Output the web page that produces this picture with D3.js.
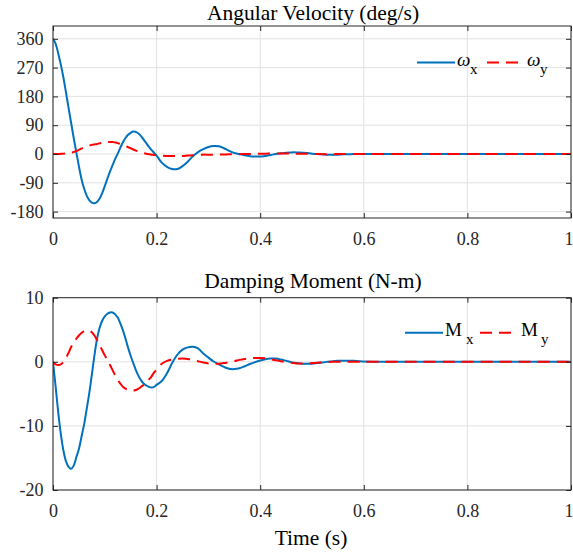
<!DOCTYPE html>
<html><head><meta charset="utf-8">
<script src="https://cdn.jsdelivr.net/npm/d3@7"></script>
<style>
body{margin:0;background:#fff}
svg{display:block}
text{font-family:"Liberation Serif","Times New Roman",serif}
</style>
</head><body>
<svg id="c" width="573" height="555"></svg>
<script>
// ---------- data ----------
const time = [0,0.005,0.01,0.015,0.02,0.025,0.03,0.035,0.04,0.045,0.05,0.055,0.06,0.065,0.07,0.075,0.08,0.085,0.09,0.095,0.1,0.105,0.11,0.115,0.12,0.125,0.13,0.135,0.14,0.145,0.15,0.155,0.16,0.165,0.17,0.175,0.18,0.185,0.19,0.195,0.2,
0.21,0.22,0.23,0.24,0.25,0.26,0.27,0.28,0.29,0.3,0.31,0.32,0.33,0.34,0.35,0.36,0.37,0.38,0.39,0.4,0.41,0.42,0.43,0.44,0.45,0.46,0.47,0.48,0.49,0.5,0.51,0.52,0.53,0.54,0.55,0.56,0.57,0.58,0.59,0.6,
0.7,0.8,0.9,1];

const omegaX = [360,345,315,280,240,193,145,97,50,5,-38,-78,-108,-130,-144,-152,-154,-150,-139,-122,-100,-77,-55,-35,-15,1,20,37,50,60,66,70,69,64,56,45,34,23,13,4,-5,
-27,-40,-47,-47,-38,-24,-7,6,15,22,25,24,18,10,3,0,-4,-7,-8,-8,-6,-3,0,2,4,5,5,4,3,1,0,-1,-2,-2,-2,-1,-1,0,0,0,
0,0,0,0];

const omegaY = [0,0,0,0.5,1,2,3,4.5,6,9,13,17,21,24,26.5,28.5,30,31.5,33.5,35,36,37,37.5,37.5,36,34,31,28,25,21.5,18,14,10.5,7.5,5,3,1,-0.5,-2,-3,-4,
-5,-6,-6,-6,-6,-5,-4,-3,-2,-2,-2,-2,-1.5,-1,-1,-0.5,0,0,0.5,1,1,1.5,1.5,1.5,1.5,1.5,1,1,0.5,0,0,-0.5,-0.5,-0.5,0,0,0,0,0,0,
0,0,0,0];

const momentX = [0,-3.8,-7.8,-11.2,-13.8,-15.5,-16.4,-16.7,-16.2,-14.9,-13.6,-11.7,-9.8,-7.4,-4.9,-2.0,1.0,3.6,5.3,6.4,7.1,7.5,7.7,7.7,7.4,6.9,6.0,4.9,3.6,2.2,0.9,-0.2,-1.3,-2.2,-2.9,-3.4,-3.7,-3.9,-4.0,-3.9,-3.6,
-3.0,-1.8,-0.2,1.1,1.9,2.25,2.35,2.1,1.3,0.65,0.05,-0.4,-0.8,-1.1,-1.14,-1.0,-0.7,-0.35,-0.05,0.2,0.4,0.5,0.5,0.35,0.15,-0.05,-0.2,-0.3,-0.3,-0.3,-0.2,-0.1,0,0.1,0.15,0.15,0.15,0.15,0.1,0.05,
0,0,0,0];

const momentY = [0,-0.4,-0.5,-0.4,0,0.6,1.4,2.3,3.0,3.6,4.1,4.5,4.8,4.9,4.85,4.6,4.1,3.4,2.6,1.8,1.0,0.3,-0.5,-1.3,-2.1,-2.8,-3.4,-3.9,-4.2,-4.4,-4.5,-4.5,-4.4,-4.2,-3.9,-3.6,-3.3,-2.8,-2.3,-1.7,-1.2,
-0.3,0.15,0.35,0.45,0.5,0.45,0.3,0.1,-0.1,-0.25,-0.3,-0.3,-0.2,-0.05,0.1,0.3,0.45,0.55,0.6,0.6,0.55,0.4,0.25,0.1,-0.05,-0.15,-0.25,-0.25,-0.25,-0.2,-0.15,-0.1,-0.05,0,0,0,0,0,0,0,
0,0,0,0];

const xTicks = [0,0.2,0.4,0.6,0.8,1];
const xTickLabels = ["0","0.2","0.4","0.6","0.8","1"];
const omegaTicks = [-180,-90,0,90,180,270,360];
const omegaTickLabels = ["-180","-90","0","90","180","270","360"];
const momentTicks = [-20,-10,0,10];
const momentTickLabels = ["-20","-10","0","10"];
const omegaDomain = [-200,400];
const momentDomain = [-20,10];
const titles = ["Angular Velocity (deg/s)","Damping Moment (N-m)"];
const xLabel = "Time (s)";
const omegaLegend = [{base:"ω", sub:"x"},{base:"ω", sub:"y"}];
const momentLegend = [{base:"M", sub:"x"},{base:"M", sub:"y"}];

// ---------- drawing ----------
const FONT = "'Liberation Serif','Times New Roman',serif";
const svg = d3.select("#c");
const BLUE = "#0072BD", RED = "#FF0000", AX = "#262626", GRID = "#e2e2e2";
const L = 53, R = 571;
const x = d3.scaleLinear().domain([0,1]).range([L,R]);

const panels = [
  {title:titles[0], top:26, bottom:218, domain:omegaDomain, ticks:omegaTicks, labels:omegaTickLabels,
   series:[omegaX, omegaY], legend:omegaLegend, italic:true,
   leg:{y:62.5, items:[{x1:417,x2:455,tx:457,sx:470},{x1:487,x2:519,tx:527,sx:540}]}, titleY:19.5},
  {title:titles[1], top:297.7, bottom:490, domain:momentDomain, ticks:momentTicks, labels:momentTickLabels,
   series:[momentX, momentY], legend:momentLegend, italic:false,
   leg:{y:332.7, items:[{x1:405,x2:443,tx:445,sx:466},{x1:480,x2:518,tx:521,sx:541}]}, titleY:288}
];

panels.forEach((p,i)=>{
  const y = d3.scaleLinear().domain(p.domain).range([p.bottom,p.top]);
  const g = svg.append("g");
  // grid
  g.append("g").selectAll("line").data(xTicks).join("line")
    .attr("x1",d=>x(d)).attr("x2",d=>x(d)).attr("y1",p.top).attr("y2",p.bottom)
    .attr("stroke",GRID).attr("stroke-width",1);
  g.append("g").selectAll("line").data(p.ticks).join("line")
    .attr("x1",L).attr("x2",R).attr("y1",d=>y(d)).attr("y2",d=>y(d))
    .attr("stroke",GRID).attr("stroke-width",1);

  // clip
  const cid = "clip"+i;
  svg.append("clipPath").attr("id",cid).append("rect")
    .attr("x",L).attr("y",p.top).attr("width",R-L).attr("height",p.bottom-p.top);

  const line = d3.line().x((d,k)=>x(time[k])).y(d=>y(d)).curve(d3.curveCatmullRom);
  const lines = g.append("g").attr("clip-path",`url(#${cid})`);
  lines.append("path").datum(p.series[0]).attr("d",line)
    .attr("fill","none").attr("stroke",BLUE).attr("stroke-width",2);
  lines.append("path").datum(p.series[1]).attr("d",line)
    .attr("fill","none").attr("stroke",RED).attr("stroke-width",2).attr("stroke-dasharray","12,7");

  // axes
  const styleAxis = sel=>{
    sel.attr("font-family",FONT).attr("font-size",18);
    sel.select(".domain").remove();
    sel.selectAll(".tick line").attr("stroke",AX).attr("stroke-width",1);
    sel.selectAll(".tick text").attr("fill",AX).style("font-size","18px").style("font-family",FONT);
  };
  const xFmt = d=>xTickLabels[xTicks.indexOf(d)];
  const yFmt = d=>p.labels[p.ticks.indexOf(d)];
  const bx = g.append("g").attr("transform",`translate(0,${p.bottom})`)
    .call(d3.axisBottom(x).tickValues(xTicks).tickFormat(xFmt).tickSizeInner(-5).tickSizeOuter(0).tickPadding(14))
    .call(styleAxis);
  // keep the last label ("1") inside the page edge
  bx.selectAll(".tick text").filter(d=>d===1).attr("dx",-2.5);
  g.append("g").attr("transform",`translate(0,${p.top})`)
    .call(d3.axisTop(x).tickValues(xTicks).tickFormat("").tickSizeInner(-5).tickSizeOuter(0))
    .call(styleAxis);
  g.append("g").attr("transform",`translate(${L},0)`)
    .call(d3.axisLeft(y).tickValues(p.ticks).tickFormat(yFmt).tickSizeInner(-5).tickSizeOuter(0).tickPadding(9.5))
    .call(styleAxis);
  g.append("g").attr("transform",`translate(${R},0)`)
    .call(d3.axisRight(y).tickValues(p.ticks).tickFormat("").tickSizeInner(-5).tickSizeOuter(0))
    .call(styleAxis);
  // box
  g.append("rect").attr("x",L).attr("y",p.top).attr("width",R-L).attr("height",p.bottom-p.top)
    .attr("fill","none").attr("stroke",AX).attr("stroke-width",1);

  // title
  svg.append("text").attr("x",313).attr("y",p.titleY).attr("text-anchor","middle")
    .style("font-size","21.5px").attr("fill","#000").text(p.title);

  // legend
  p.leg.items.forEach((it,k)=>{
    svg.append("line").attr("x1",it.x1).attr("x2",it.x2).attr("y1",p.leg.y).attr("y2",p.leg.y)
      .attr("stroke",k===0?BLUE:RED).attr("stroke-width",2)
      .attr("stroke-dasharray",k===0?null:"12,7");
    svg.append("text").attr("x",it.tx).attr("y",p.leg.y+3.5)
      .style("font-size","19px").style("font-style",p.italic?"italic":"normal").attr("fill","#000")
      .text(p.legend[k].base);
    svg.append("text").attr("x",it.sx).attr("y",p.leg.y+11.5)
      .style("font-size","15px").attr("fill","#000").text(p.legend[k].sub);
  });
});

svg.append("text").attr("x",311).attr("y",545).attr("text-anchor","middle")
  .style("font-size","21.5px").attr("fill","#000").text(xLabel);
</script>
</body></html>
